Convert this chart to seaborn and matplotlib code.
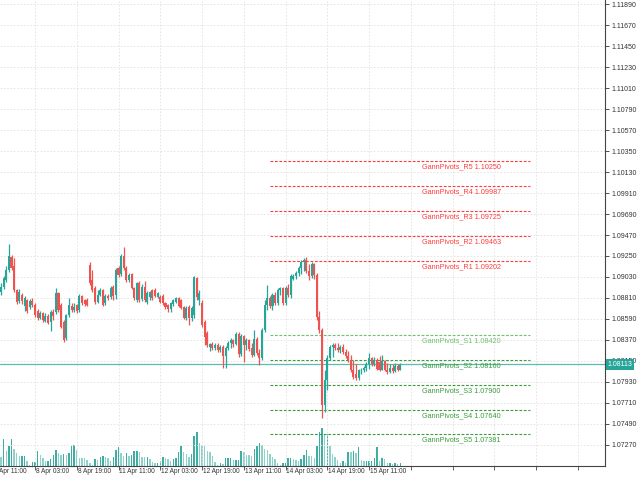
import numpy as np
import matplotlib
matplotlib.use("Agg")
import matplotlib.pyplot as plt
import matplotlib.transforms as mtransforms
from matplotlib.ticker import FormatStrFormatter
import seaborn as sns

# H1 bars, EURUSD quotes in pips (1/10000), first bar index = 3 (7 Apr 14:00)
first_bar = 3
open_pips = [
    10887, 10893, 10900, 10910, 10924, 10915, 10889, 10878, 10884, 10873,
    10879, 10872, 10878, 10874, 10867, 10860, 10865, 10857, 10862, 10856,
    10866, 10866, 10886, 10874, 10856, 10839, 10863, 10873, 10868, 10874,
    10868, 10883, 10879, 10879,
    10916, 10900, 10891, 10877, 10884, 10889, 10876, 10883, 10882, 10893,
    10884, 10912, 10906, 10925, 10912, 10900, 10906, 10891, 10879, 10897,
    10880, 10893, 10877, 10882, 10889, 10889, 10882, 10882, 10883, 10876,
    10874, 10869, 10875, 10877, 10881, 10879, 10872, 10860, 10872, 10860,
    10863, 10902, 10879, 10876, 10856, 10844,
    10830, 10833, 10829, 10832, 10826, 10830, 10820, 10829, 10834, 10837,
    10833, 10843, 10822, 10841, 10832, 10837, 10829, 10821, 10838, 10823,
    10818, 10847, 10874, 10881, 10873, 10884, 10876, 10889, 10891, 10876,
    10891, 10884, 10901, 10904, 10907,
    10912, 10919, 10921, 10909, 10904, 10917, 10905, 10861, 10847, 10769,
    10795, 10818, 10830, 10832, 10829, 10827, 10830, 10824, 10820, 10816,
    10805, 10801, 10797, 10805, 10806, 10808, 10812, 10818, 10812, 10816,
    10814, 10806, 10815, 10806, 10803, 10808, 10804, 10810, 10806,
]
high_pips = [
    10897, 10904, 10915, 10938, 10926, 10923, 10890, 10890, 10886, 10883,
    10880, 10880, 10881, 10876, 10869, 10867, 10866, 10865, 10864, 10868,
    10869, 10891, 10887, 10876, 10858, 10864, 10881, 10876, 10876, 10875,
    10885, 10884, 10880, 10881,
    10919, 10910, 10894, 10889, 10891, 10890, 10885, 10885, 10894, 10895,
    10912, 10915, 10927, 10934, 10915, 10907, 10907, 10893, 10898, 10899,
    10896, 10899, 10888, 10888, 10890, 10891, 10887, 10884, 10885, 10877,
    10875, 10877, 10880, 10882, 10882, 10880, 10873, 10873, 10874, 10873,
    10904, 10903, 10889, 10879, 10858, 10846,
    10834, 10835, 10834, 10834, 10832, 10832, 10831, 10836, 10839, 10838,
    10845, 10845, 10843, 10842, 10839, 10838, 10834, 10847, 10840, 10828,
    10850, 10879, 10895, 10883, 10886, 10887, 10891, 10893, 10892, 10894,
    10896, 10906, 10906, 10909, 10915,
    10921, 10923, 10924, 10917, 10919, 10918, 10907, 10867, 10850, 10805,
    10821, 10832, 10834, 10834, 10834, 10832, 10833, 10828, 10825, 10821,
    10816, 10812, 10807, 10808, 10810, 10814, 10823, 10819, 10819, 10818,
    10820, 10821, 10816, 10813, 10812, 10812, 10813, 10812, 10813,
]
low_pips = [
    10884, 10890, 10898, 10908, 10910, 10887, 10875, 10876, 10875, 10867,
    10865, 10869, 10872, 10861, 10858, 10859, 10856, 10856, 10854, 10846,
    10858, 10864, 10866, 10850, 10835, 10837, 10861, 10866, 10866, 10865,
    10866, 10874, 10873, 10873,
    10895, 10887, 10875, 10876, 10883, 10873, 10874, 10879, 10880, 10879,
    10880, 10903, 10904, 10910, 10898, 10898, 10890, 10879, 10877, 10877,
    10878, 10877, 10875, 10879, 10879, 10882, 10881, 10876, 10874, 10869,
    10866, 10866, 10873, 10876, 10872, 10869, 10859, 10858, 10853, 10857,
    10860, 10879, 10874, 10851, 10832, 10830,
    10825, 10827, 10826, 10824, 10824, 10808, 10808, 10827, 10829, 10830,
    10832, 10819, 10820, 10814, 10826, 10825, 10819, 10820, 10821, 10811,
    10816, 10845, 10868, 10870, 10868, 10874, 10874, 10884, 10874, 10874,
    10882, 10881, 10900, 10901, 10904,
    10906, 10909, 10907, 10900, 10902, 10901, 10858, 10844, 10755, 10762,
    10785, 10816, 10819, 10827, 10824, 10823, 10822, 10818, 10814, 10803,
    10796, 10795, 10795, 10801, 10803, 10804, 10807, 10810, 10810, 10805,
    10804, 10805, 10804, 10801, 10802, 10802, 10803, 10804, 10805,
]
close_pips = [
    10893, 10902, 10910, 10925, 10912, 10889, 10877, 10887, 10878, 10881,
    10867, 10878, 10874, 10863, 10860, 10865, 10858, 10862, 10855, 10866,
    10862, 10886, 10868, 10851, 10837, 10863, 10874, 10868, 10872, 10867,
    10883, 10876, 10875, 10874,
    10897, 10889, 10877, 10884, 10889, 10874, 10883, 10881, 10891, 10883,
    10910, 10905, 10925, 10912, 10900, 10905, 10891, 10881, 10897, 10879,
    10893, 10879, 10886, 10887, 10881, 10883, 10886, 10877, 10876, 10872,
    10869, 10876, 10879, 10881, 10873, 10870, 10860, 10870, 10860, 10870,
    10903, 10882, 10886, 10853, 10840, 10832,
    10833, 10829, 10832, 10826, 10830, 10820, 10829, 10834, 10837, 10833,
    10843, 10822, 10841, 10832, 10837, 10827, 10821, 10838, 10823, 10818,
    10847, 10874, 10881, 10873, 10884, 10876, 10889, 10891, 10876, 10891,
    10884, 10904, 10904, 10907, 10912,
    10919, 10921, 10909, 10904, 10917, 10905, 10861, 10847, 10769, 10795,
    10818, 10830, 10832, 10829, 10827, 10830, 10824, 10820, 10816, 10805,
    10798, 10797, 10805, 10806, 10808, 10812, 10818, 10812, 10816, 10807,
    10806, 10815, 10806, 10803, 10808, 10804, 10810, 10806, 10811,
]
volumes = [
    27, 82, 44, 59, 82, 52, 39, 31, 31, 31,
    14, 4, 11, 13, 45, 34, 24, 14, 16, 22,
    34, 49, 39, 34, 36, 34, 39, 59, 62, 47,
    25, 24, 23, 19, 9, 4, 20, 18, 27, 29,
    28, 23, 16, 27, 47, 57, 39, 31, 38, 31,
    32, 46, 46, 42, 27, 26, 27, 21, 13, 9,
    9, 16, 28, 24, 22, 16, 21, 24, 42, 60,
    41, 37, 28, 36, 91, 102, 69, 62, 59, 46,
    42, 29, 11, 4, 9, 6, 25, 25, 25, 17,
    17, 17, 46, 43, 34, 32, 29, 50, 61, 68,
    62, 52, 49, 36, 26, 22, 9, 4, 9, 9,
    25, 25, 22, 19, 16, 22, 32, 49, 31, 29,
    24, 59, 102, 114, 96, 96, 59, 36, 28, 19,
    9, 14, 9, 42, 41, 44, 39, 57, 19, 14,
    14, 16, 16, 24, 57, 14, 23, 21, 9, 9,
    7, 9, 7, 9,
]

time_label_bars = [0, 16, 32, 48, 64, 80, 96, 112, 128, 144]
time_labels = ["7 Apr 11:00", "8 Apr 03:00", "8 Apr 19:00", "11 Apr 11:00",
               "12 Apr 03:00", "12 Apr 19:00", "13 Apr 11:00", "14 Apr 03:00",
               "14 Apr 19:00", "15 Apr 11:00"]

pivot_names = ["GannPivots_R5", "GannPivots_R4", "GannPivots_R3", "GannPivots_R2",
               "GannPivots_R1", "GannPivots_S1", "GannPivots_S2", "GannPivots_S3",
               "GannPivots_S4", "GannPivots_S5"]
pivot_levels = [1.10250, 1.09987, 1.09725, 1.09463, 1.09202,
                1.08420, 1.08160, 1.07900, 1.07640, 1.07381]
pivot_colors = ["#ff3c3c"] * 5 + ["#6fbf6f", "#3c9c3c", "#3c9c3c", "#3c9c3c", "#3c9c3c"]
pivot_start, pivot_end, pivot_text_x = 106, 205.5, 164.3

last_price = 1.08113

sns.set_theme(style="white")
plt.rcParams['font.family'] = ['Liberation Sans', 'DejaVu Sans']

o = np.array(open_pips) / 1e4
h = np.array(high_pips) / 1e4
l = np.array(low_pips) / 1e4
c = np.array(close_pips) / 1e4
idx = np.arange(first_bar, first_bar + len(o))

teal = "#26a69a"
red = "#ef5350"
cols = [teal if cc >= oo else red for oo, cc in zip(o, c)]

vol = np.array(volumes)
vol_cols = ["#3faea2" if i > 0 and vol[i] >= vol[i - 1] else "#8ed2c9"
            for i in range(len(vol))]

fig = plt.figure(figsize=(6.4, 4.8), dpi=100)
fig.patch.set_facecolor("white")
rect = [0, 14 / 480, 605 / 640, 466 / 480]
xlim = (2.59, 234.4)

# volumes underneath
ax_vol = fig.add_axes(rect, zorder=0)
ax_vol.bar(idx, vol, width=0.55, color=vol_cols, linewidth=0)
ax_vol.set_xlim(*xlim)
ax_vol.set_ylim(0, 1400)
ax_vol.axis("off")

ax = fig.add_axes(rect, zorder=1)
ax.patch.set_alpha(0)

# candles
ax.vlines(idx, l, h, colors=cols, linewidth=0.9, zorder=3)
ax.bar(idx, c - o, bottom=o, width=0.78, color=cols, linewidth=0, zorder=4)

# pivot levels
for name, lev, col in zip(pivot_names, pivot_levels, pivot_colors):
    ax.hlines(lev, pivot_start, pivot_end, colors=col, linestyles=(0, (2.5, 1.5)),
              linewidth=0.8, zorder=2)
    ax.annotate(f"{name} {lev:.5f}", (pivot_text_x, lev), xytext=(0, -1.6),
                textcoords="offset points", ha="left", va="top",
                fontsize=5.2, color=col, zorder=5)

# current price
ax.axhline(last_price, color=teal, linewidth=0.9, alpha=0.75, zorder=2)
trans = mtransforms.blended_transform_factory(ax.transAxes, ax.transData)
ax.text(1.004, last_price, f"{last_price:.5f}", transform=trans, ha="left", va="center",
        fontsize=5.0, color="white", clip_on=False, zorder=10,
        bbox=dict(boxstyle="square,pad=0.25", fc=teal, ec="none"))

ax.set_xlim(*xlim)
ax.set_ylim(1.07049, 1.11933)

yt = np.arange(10727, 11190, 22) / 1e4
ax.set_yticks(yt)
ax.yaxis.set_major_formatter(FormatStrFormatter("%.5f"))
ax.yaxis.tick_right()
ax.set_xticks(np.arange(16, 235, 16))
ax.set_xticklabels([])
ax.tick_params(axis="y", labelsize=5.0, colors="#333333", length=3, width=0.6, pad=2,
               right=True, left=False)
ax.tick_params(axis="x", length=3, width=0.6, colors="#444444", bottom=True)

trans_x = mtransforms.blended_transform_factory(ax.transData, ax.transAxes)
for b, lab in zip(time_label_bars, time_labels):
    ax.text(b + 0.3, -0.005, lab, transform=trans_x, ha="left", va="top",
            fontsize=4.7, color="#333333", clip_on=False)

ax.grid(True, linestyle=(0, (2, 2)), color="#e2e2e2", linewidth=0.6, zorder=0)
ax.set_axisbelow(True)
for side in ["left", "top"]:
    ax.spines[side].set_visible(False)
for side in ["right", "bottom"]:
    ax.spines[side].set_visible(True)
    ax.spines[side].set_color("#444444")
    ax.spines[side].set_linewidth(0.8)

fig.savefig("out.png", dpi=100, facecolor="white")
